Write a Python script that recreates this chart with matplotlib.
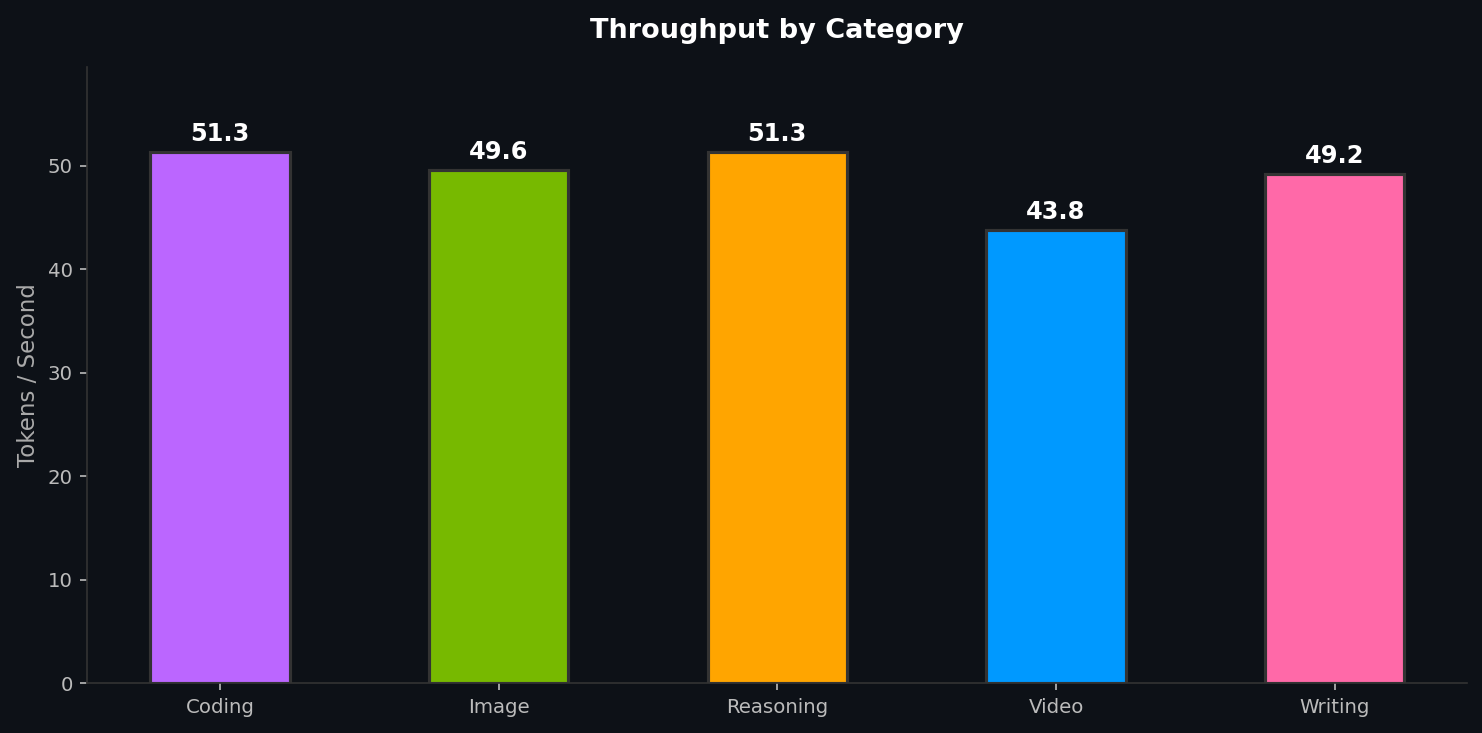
import matplotlib
matplotlib.use("Agg")
import matplotlib.pyplot as plt

categories = ["Coding", "Image", "Reasoning", "Video", "Writing"]
values = [51.3, 49.6, 51.3, 43.8, 49.2]
colors = ["#bb66ff", "#77b900", "#ffa500", "#0099ff", "#ff69a8"]

bg = "#0d1117"
fig, ax = plt.subplots(figsize=(9.88, 4.887), dpi=150)
fig.patch.set_facecolor(bg)
ax.set_facecolor(bg)
x = range(len(categories))
bars = ax.bar(x, values, width=0.5, color=colors, edgecolor="#333333", linewidth=1.5)
for xi, v in zip(x, values):
    ax.text(xi, v + 0.6, f"{v:.1f}", ha="center", va="bottom", color="white",
            fontsize=11.5, fontweight="bold")
ax.set_xticks(list(x))
ax.set_xticklabels(categories)
ax.set_ylim(0, max(values) * 1.16)
ax.set_ylabel("Tokens / Second", color="#aaaaaa", fontsize=11)
ax.set_title("Throughput by Category", color="white", fontsize=13, fontweight="bold", pad=14)
ax.tick_params(colors="#bbbbbb", labelsize=9.5)
for s in ["top", "right"]:
    ax.spines[s].set_visible(False)
for s in ["left", "bottom"]:
    ax.spines[s].set_color("#333333")
fig.subplots_adjust(left=0.059, right=0.99, top=0.908, bottom=0.068)
fig.savefig("out.png", facecolor=bg)
